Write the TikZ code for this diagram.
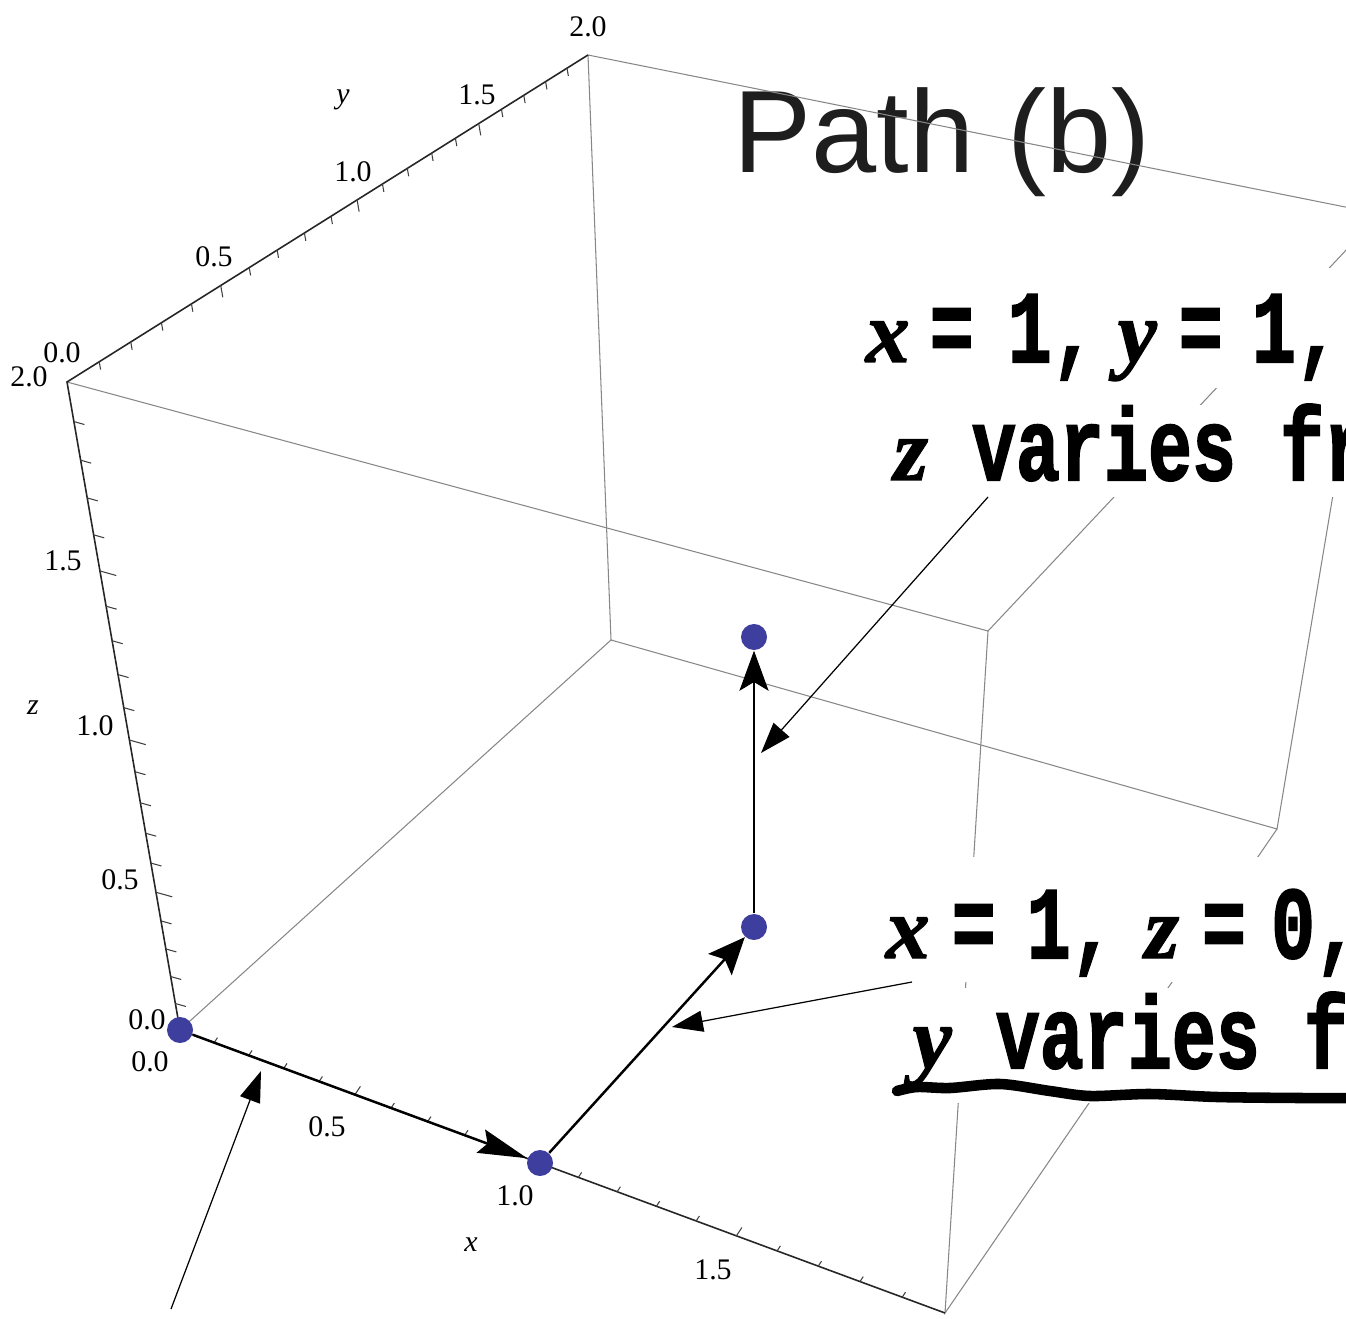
\documentclass[tikz,border=0pt]{standalone}
\usepackage{fontspec}
\setmainfont{Liberation Serif}
\newfontfamily\titlefont{Liberation Sans}
\newfontfamily\scanfont{Liberation Mono}[BoldFeatures={FakeBold=2}]
\newfontfamily\scanvarfont{Liberation Serif}[BoldItalicFeatures={FakeBold=1.5}]
\usetikzlibrary{arrows.meta,calc}

\definecolor{dotblue}{RGB}{62,62,158}
\definecolor{boxgray}{RGB}{135,135,135}
\definecolor{titlegray}{RGB}{30,30,30}

\newcommand\scanvar[1]{{\scanvarfont\fontsize{25}{28}\selectfont\bfseries\itshape #1}}
\newcommand\scantxt[1]{\scalebox{1}[1.4]{\scanfont\bfseries\fontsize{20.86}{24}\selectfont #1}}

\begin{document}
\begin{tikzpicture}[x=0.01cm, y=-0.01cm,
    edge/.style={boxgray, line width=0.3pt},
    axis/.style={black!85, line width=0.45pt},
    tick/.style={black!75, line width=0.3pt},
    ticklabel/.style={font=\fontsize{8.5}{10}\selectfont, inner sep=0pt},
    axislabel/.style={font=\fontsize{8.5}{10}\selectfont\itshape, inner sep=0pt},
    ptdot/.style={circle, fill=dotblue, minimum size=0.26cm, inner sep=0pt},
    route/.style={line width=0.7pt},
    note/.style={line width=0.35pt, -{Triangle[length=8.8pt,width=6pt]}},
    scanline/.style={fill=white, anchor=base west, inner sep=0pt}]
  \useasboundingbox (0,0) rectangle (1346,1319);
  \clip (0,0) rectangle (1346,1319);

  % corners of the box
  \coordinate (o) at (180,1030);
  \coordinate (p200) at (945,1313);
  \coordinate (p002) at (67,382);
  \coordinate (p022) at (588,55);
  \coordinate (p020) at (611,640);
  \coordinate (p202) at (988,631);
  \coordinate (p220) at (1277,829);
  \coordinate (p222) at (1380,214);

  \node[font=\titlefont\fontsize{33.3}{36}\selectfont, text=titlegray, anchor=base west, inner sep=0pt] (title) at (733,173) {Path (b)};

  % box edges and axes
  \draw[edge] (o) -- (p020) -- (p022) -- (p222);
  \draw[edge] (p020) -- (p220) -- (p222) -- (p202);
  \draw[edge] (p002) -- (p202) -- (p200) -- (p220);
  \draw[axis] (p022) -- (p002) -- (o) -- (p200);

  % ticks
  \foreach \i in {1,...,19}{
    \pgfmathsetmacro\f{\i/20*0.889/(1-\i/20+\i/20*0.889)}
    \pgfmathsetmacro\l{mod(\i,5)==0 ? 10 : 6}
    \draw[tick] ($(o)!\f!(p200)$) -- ++(0.55*\l,-0.83*\l);
  }
  \foreach \i in {1,...,19}{
    \pgfmathsetmacro\f{\i/20*0.81/(1-\i/20+\i/20*0.81)}
    \pgfmathsetmacro\l{mod(\i,5)==0 ? 17 : 11}
    \draw[tick] ($(o)!\f!(p002)$) -- ++(0.96*\l,0.27*\l);
  }
  \foreach \i in {1,...,19}{
    \pgfmathsetmacro\f{\i/20*1.256/(1-\i/20+\i/20*1.256)}
    \pgfmathsetmacro\l{mod(\i,5)==0 ? 12 : 8}
    \draw[tick] ($(p002)!\f!(p022)$) -- ++(0.17*\l,0.98*\l);
  }

  % tick labels
  \foreach \v/\px/\py [count=\k] in {0.0/150/1062, 0.5/327/1127, 1.0/515/1196, 1.5/713/1270}
    \node[ticklabel] (xt\k) at (\px,\py) {\v};
  \foreach \v/\px/\py [count=\k] in {0.0/147/1020, 0.5/120/880, 1.0/95/726, 1.5/63/561, 2.0/29/377}
    \node[ticklabel] (zt\k) at (\px,\py) {\v};
  \foreach \v/\px/\py [count=\k] in {0.0/62/353, 0.5/214/257, 1.0/353/172, 1.5/477/95, 2.0/588/27}
    \node[ticklabel] (yt\k) at (\px,\py) {\v};
  \node[axislabel] (xname) at (471,1245) {x};
  \node[axislabel] (yname) at (343,100) {y};
  \node[axislabel] (zname) at (33,708) {z};

  % the path
  \node[ptdot] (d0) at (o) {};
  \node[ptdot] (d1) at (540,1163) {};
  \node[ptdot] (d2) at (754,927) {};
  \node[ptdot] (d3) at (754,637) {};
  \draw[route, -{Stealth[length=14pt,width=7pt,inset=2pt]}] (d0) -- (d1);
  \draw[route, -{Stealth[length=10.5pt,width=9pt,inset=2pt]}] (d1) -- (d2);
  \draw[route, line width=0.3pt, -{Stealth[length=11.4pt,width=8.3pt,inset=2.5pt]}] (d2) -- (d3);

  % pasted notes
  \node[scanline, text height=0.94cm, text depth=0.26cm] (zfixed) at (865,362)
    {\scanvar{x}\hspace{0.2cm}\scantxt{=}\hspace{0.34cm}\scantxt{1,}\hspace{0.22cm}\scanvar{y}\hspace{0.22cm}\scantxt{=}\hspace{0.29cm}\scantxt{1,}\hspace{0.6cm}};
  \node[scanline, text height=0.75cm, text depth=0.17cm] (zvaries) at (893,480)
    {\scanvar{z}\scantxt{\ varies fr}\hspace{0.3cm}};
  \node[scanline, text height=1.01cm, text depth=0.24cm] (yfixed) at (885,958)
    {\scanvar{x}\hspace{0.22cm}\scantxt{=}\hspace{0.31cm}\scantxt{1,}\hspace{0.3cm}\scanvar{z}\hspace{0.23cm}\scantxt{=}\hspace{0.25cm}\scantxt{0,}\hspace{0.3cm}};
  \node[scanline, text height=0.80cm, text depth=0.35cm] (yvaries) at (912,1068)
    {\scanvar{y}\scantxt{\ varies f}\hspace{0.6cm}};
  \draw[line width=3pt, line cap=round] plot[smooth] coordinates
    {(897,1091) (917,1087) (950,1088) (1000,1084) (1050,1091) (1090,1096) (1150,1094) (1217,1097) (1300,1098) (1360,1098)};

  \coordinate (zfoot) at (988,497);
  \coordinate (zmark) at (761,753);
  \coordinate (yfoot) at (912,982);
  \coordinate (ymark) at (672,1027);
  \coordinate (xfoot) at (171,1309);
  \coordinate (xmark) at (261,1071);
  \draw[note] (zfoot) -- (zmark);
  \draw[note] (yfoot) -- (ymark);
  \draw[note] (xfoot) -- (xmark);
\end{tikzpicture}
\end{document}
